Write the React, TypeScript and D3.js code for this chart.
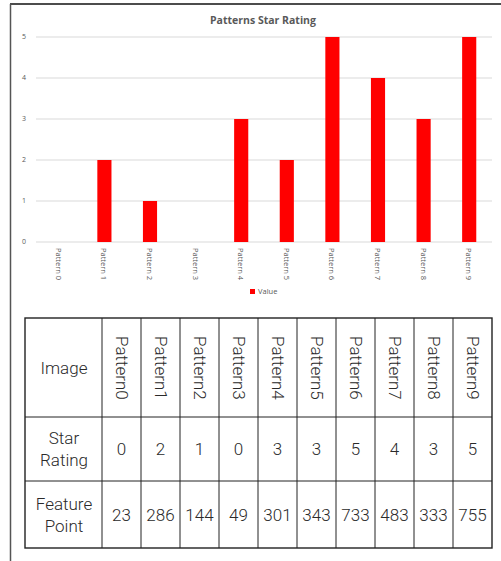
import * as d3 from "d3";

// chart data
const categories = ["Pattern 0", "Pattern 1", "Pattern 2", "Pattern 3", "Pattern 4", "Pattern 5", "Pattern 6", "Pattern 7", "Pattern 8", "Pattern 9"];
const starValues = [0, 2, 1, 0, 3, 2, 5, 4, 3, 5];
const yTicks = [0, 1, 2, 3, 4, 5];

// table data
const rowLabels = [["Image"], ["Star", "Rating"], ["Feature", "Point"]];
const tableHeaders = ["Pattern0", "Pattern1", "Pattern2", "Pattern3", "Pattern4", "Pattern5", "Pattern6", "Pattern7", "Pattern8", "Pattern9"];
const tableStarRating = [0, 2, 1, 0, 3, 3, 5, 4, 3, 5];
const tableFeaturePoints = [23, 286, 144, 49, 301, 343, 733, 483, 333, 755];

const W = 501;
const H = 561;
const axisFont = "'Open Sans', 'Noto Sans', sans-serif";
const tableFont = "Roboto, 'Noto Sans', sans-serif";
const grey = "#595959";
const ink = "#2a2a2a";

const App = () => {
  const x = d3.scaleBand<string>().domain(categories).range([36, 492]).paddingInner(0.69).paddingOuter(0.345);
  const y = d3.scaleLinear().domain([0, 5]).range([242, 37]);

  const colX = d3.scaleBand<string>().domain(tableHeaders).range([102, 492]);
  const rowY = [318, 417, 481, 548];
  const firstColX = [25, 102];
  const tblFont = 17;

  return (
    <svg width={W} height={H} style={{ position: "absolute", left: 0, top: 0, background: "#fff" }}>
      {/* frame */}
      <line x1={10} x2={W} y1={4} y2={4} stroke="#111" strokeWidth={1.5} />
      <line x1={10.5} x2={10.5} y1={4} y2={H} stroke="#555" strokeWidth={1.5} />

      {/* title */}
      <text x={263} y={24} textAnchor="middle" fontFamily={axisFont} fontWeight="bold" fontSize={10.5} fill={grey}>
        Patterns Star Rating
      </text>

      {/* gridlines + y ticks */}
      {yTicks.map((t) => (
        <g key={t}>
          <line x1={36} x2={492} y1={y(t)} y2={y(t)} stroke="#d9d9d9" strokeWidth={1} />
          <text x={26} y={y(t)} dy="0.35em" textAnchor="end" fontFamily={axisFont} fontSize={7} fill={grey}>
            {t}
          </text>
        </g>
      ))}

      {/* bars */}
      {categories.map((c, i) => (
        <rect key={c} x={x(c)} y={y(starValues[i])} width={x.bandwidth()} height={y(0) - y(starValues[i])} fill="#ff0000" />
      ))}

      {/* category labels */}
      {categories.map((c) => {
        const cx = (x(c) ?? 0) + x.bandwidth() / 2;
        return (
          <text key={c} transform={`translate(${cx},248) rotate(90)`} dominantBaseline="central" fontFamily={axisFont} fontSize={7.5} fill={grey}>
            {c}
          </text>
        );
      })}

      {/* legend */}
      <rect x={250} y={289} width={5} height={5} fill="#ff0000" />
      <text x={258} y={291.5} dy="0.35em" fontFamily={axisFont} fontSize={7.5} fill={grey}>
        Value
      </text>

      {/* table grid */}
      <g stroke="#222" fill="none">
        <rect x={25} y={rowY[0]} width={492 - 25} height={rowY[3] - rowY[0]} strokeWidth={1.4} />
        {rowY.slice(1, 3).map((ry) => (
          <line key={ry} x1={25} x2={492} y1={ry} y2={ry} strokeWidth={1} />
        ))}
        {tableHeaders.map((h) => (
          <line key={h} x1={colX(h)} x2={colX(h)} y1={rowY[0]} y2={rowY[3]} strokeWidth={1} />
        ))}
      </g>

      {/* row labels, one text per line */}
      {rowLabels.map((lines, r) => {
        const cy = (rowY[r] + rowY[r + 1]) / 2;
        const cx = (firstColX[0] + firstColX[1]) / 2 + 0.5;
        const lh = 22;
        return lines.map((l, k) => (
          <text key={`${r}-${k}`} x={cx} y={cy + (k - (lines.length - 1) / 2) * lh} dy="0.36em" textAnchor="middle" fontFamily={tableFont} fontWeight={300} fontSize={tblFont} fill={ink}>
            {l}
          </text>
        ));
      })}

      {/* header cells */}
      {tableHeaders.map((h) => {
        const cx = (colX(h) ?? 0) + colX.bandwidth() / 2;
        return (
          <text key={h} transform={`translate(${cx},${rowY[0] + 18}) rotate(90)`} dominantBaseline="central" fontFamily={tableFont} fontWeight={300} fontSize={tblFont} fill={ink}>
            {h}
          </text>
        );
      })}

      {/* star rating values */}
      {tableHeaders.map((h, i) => (
        <text key={h} x={(colX(h) ?? 0) + colX.bandwidth() / 2} y={(rowY[1] + rowY[2]) / 2} dy="0.36em" textAnchor="middle" fontFamily={tableFont} fontWeight={300} fontSize={tblFont} fill={ink}>
          {tableStarRating[i]}
        </text>
      ))}

      {/* feature point values */}
      {tableHeaders.map((h, i) => (
        <text key={h} x={(colX(h) ?? 0) + colX.bandwidth() / 2} y={(rowY[2] + rowY[3]) / 2} dy="0.36em" textAnchor="middle" fontFamily={tableFont} fontWeight={300} fontSize={tblFont} fill={ink}>
          {tableFeaturePoints[i]}
        </text>
      ))}
    </svg>
  );
};

export default App;
